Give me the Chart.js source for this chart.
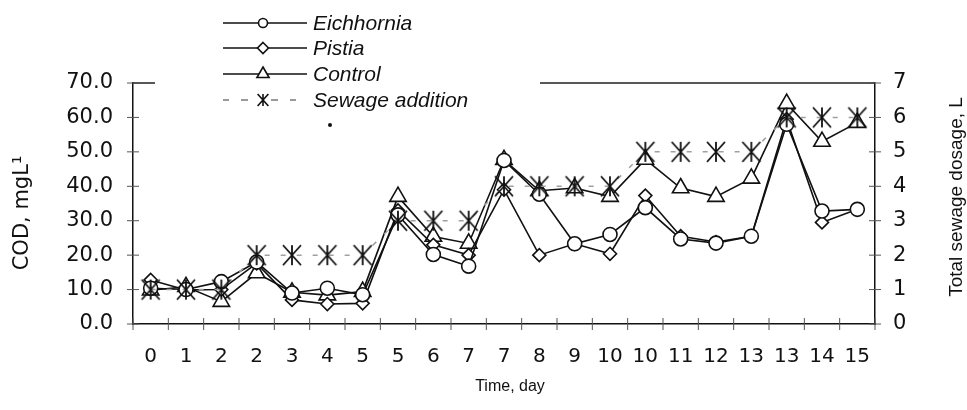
<!DOCTYPE html>
<html><head><meta charset="utf-8">
<script src="https://cdn.jsdelivr.net/npm/chart.js@4"></script>
<style>html,body{margin:0;padding:0;background:#fff;}#wrap{width:967px;height:410px;}</style>
</head><body><div id="wrap"><canvas id="c" width="967" height="410"></canvas></div>
<script>
const dayLabels = ['0','1','2','2','3','4','5','5','6','7','7','8','9','10','10','11','12','13','13','14','15'];
const eichhornia = [10.4, 10, 12.3, 18, 9, 10.4, 8.5, 31.7, 20.2, 16.8, 47.5, 37.7, 23.3, 26, 33.8, 24.7, 23.5, 25.5, 58, 32.8, 33.3];
const pistia = [12.8, 9.9, 10, 17.6, 7, 5.8, 6, 33, 23, 20, 39, 20, 23.3, 20.4, 37.3, 25.5, 23.8, 25.5, 59.5, 29.5, 33.3];
const control = [9.8, 10.8, 6.5, 14.8, 9.2, 8.4, 9.4, 37, 25.4, 23.4, 47.7, 38.7, 39.5, 37, 47.8, 39.5, 37, 42.3, 64, 53, 58.5];
const sewageAddition = [1,1,1,2,2,2,2,3,3,3,4,4,4,4,5,5,5,5,6,6,6];
const codTicks = [0,10,20,30,40,50,60,70];
const sewageTicks = [0,1,2,3,4,5,6,7];
const seriesNames = ['Eichhornia','Pistia','Control','Sewage addition'];

function asterisk(ctx, x, y, r){
  const dx = r*0.9;
  ctx.beginPath();
  ctx.moveTo(x, y-r); ctx.lineTo(x, y+r);
  ctx.moveTo(x-dx, y-r); ctx.lineTo(x+dx, y+r);
  ctx.moveTo(x+dx, y-r); ctx.lineTo(x-dx, y+r);
  ctx.stroke();
}
function makeStarImage(r, lw){
  const s = Math.ceil(2*r + lw + 2);
  const cv = document.createElement('canvas'); cv.width = s; cv.height = s;
  const c = cv.getContext('2d');
  c.strokeStyle = '#111'; c.lineWidth = lw; c.lineCap = 'butt';
  asterisk(c, s/2, s/2, r);
  return cv;
}
const starImg = makeStarImage(10, 1.8);

function drawMarker(ctx, style, x, y, r){
  ctx.beginPath();
  if (style==='circle'){ ctx.arc(x,y,r,0,Math.PI*2); ctx.fill(); ctx.stroke(); }
  else if (style==='rectRot'){ ctx.moveTo(x,y-r); ctx.lineTo(x+r,y); ctx.lineTo(x,y+r); ctx.lineTo(x-r,y); ctx.closePath(); ctx.fill(); ctx.stroke(); }
  else if (style==='triangle'){ const a=r*Math.sin(Math.PI/3); ctx.moveTo(x,y-r); ctx.lineTo(x+a,y+r/2); ctx.lineTo(x-a,y+r/2); ctx.closePath(); ctx.fill(); ctx.stroke(); }
  else if (style==='star'){ asterisk(ctx, x, y, r); }
}

const decor = {
  id:'decor',
  afterDraw(chart){
    const ctx = chart.ctx, a = chart.chartArea;
    const xs = chart.scales.x, yl = chart.scales.y, yr = chart.scales.y2;
    ctx.save();
    ctx.strokeStyle='#222'; ctx.lineWidth=1.5;
    ctx.beginPath(); ctx.moveTo(a.left,a.top); ctx.lineTo(155,a.top);
    ctx.moveTo(540,a.top); ctx.lineTo(a.right,a.top); ctx.stroke();
    ctx.strokeStyle='#555'; ctx.lineWidth=1;
    ctx.beginPath();
    codTicks.forEach(v=>{ const y=yl.getPixelForValue(v); ctx.moveTo(a.left-6,y); ctx.lineTo(a.left+6,y); });
    sewageTicks.forEach(v=>{ const y=yr.getPixelForValue(v); ctx.moveTo(a.right-6,y); ctx.lineTo(a.right+6,y); });
    for (let i=0;i<=dayLabels.length;i++){ const x=xs.getPixelForValue(i-0.5); ctx.moveTo(x,a.bottom-6); ctx.lineTo(x,a.bottom+6); }
    ctx.stroke();
    const styles = ['circle','rectRot','triangle','star'];
    const radii = [4.5,5.5,7,6];
    const rows = [23,48,74,100];
    ctx.font = 'italic 21px "Liberation Sans", Arial, sans-serif';
    ctx.textBaseline='middle'; ctx.textAlign='left';
    for (let i=0;i<4;i++){
      const y=rows[i];
      if (i<3){
        ctx.strokeStyle='#111'; ctx.lineWidth=1.5;
        ctx.beginPath(); ctx.moveTo(223,y); ctx.lineTo(307,y); ctx.stroke();
      } else {
        ctx.strokeStyle='#9a9a9a'; ctx.lineWidth=2;
        ctx.beginPath();
        [[223,229],[241,248],[271,278],[290,296]].forEach(s=>{ctx.moveTo(s[0],y);ctx.lineTo(s[1],y);});
        ctx.stroke();
      }
      ctx.fillStyle='#fff'; ctx.strokeStyle='#111'; ctx.lineWidth=1.6;
      drawMarker(ctx, styles[i], 263, y, radii[i]);
      ctx.fillStyle='#111';
      ctx.fillText(seriesNames[i], 313, y+1);
    }
    ctx.beginPath(); ctx.arc(330,125,2,0,Math.PI*2); ctx.fill();
    ctx.fillStyle='#111';
    ctx.font='16px "Liberation Sans", Arial, sans-serif';
    ctx.textAlign='center';
    ctx.fillText('Time, day', 510, 387);
    ctx.save(); ctx.translate(23,213); ctx.rotate(-Math.PI/2);
    ctx.font='21px "DejaVu Sans", sans-serif';
    ctx.fillText('COD, mgL\u00B9', 0, 0); ctx.restore();
    ctx.save(); ctx.translate(957,197); ctx.rotate(-Math.PI/2);
    ctx.font='19px "Liberation Sans", Arial, sans-serif';
    ctx.fillText('Total sewage dosage, L', 0, 0); ctx.restore();
    ctx.restore();
  }
};

const lineBase = {borderColor:'#111', borderWidth:1.6, pointBackgroundColor:'#fff', pointBorderColor:'#111', pointBorderWidth:1.6, tension:0, fill:false, yAxisID:'y', order:0};

new Chart(document.getElementById('c'), {
  type:'line',
  data:{
    labels: dayLabels,
    datasets:[
      Object.assign({}, lineBase, {label:seriesNames[0], data:eichhornia, pointStyle:'circle', pointRadius:7}),
      Object.assign({}, lineBase, {label:seriesNames[1], data:pistia, pointStyle:'rectRot', pointRadius:6.5}),
      Object.assign({}, lineBase, {label:seriesNames[2], data:control, pointStyle:'triangle', pointRadius:9.5}),
      {label:seriesNames[3], data:sewageAddition, yAxisID:'y2', order:-1, borderColor:'#a0a0a0', borderWidth:1.5, borderDash:[5,11],
       pointStyle:starImg, pointRadius:10, tension:0, fill:false}
    ]
  },
  options:{
    responsive:false, animation:false, devicePixelRatio:1,
    layout:{padding:{top:83,left:0,right:0,bottom:0}},
    plugins:{legend:{display:false}, tooltip:{enabled:false}},
    scales:{
      x:{type:'category', offset:true,
         grid:{display:false, drawTicks:false, offset:true},
         border:{display:true, color:'#111', width:1.5},
         ticks:{font:{family:'DejaVu Sans', size:20}, color:'#111', padding:21, maxRotation:0, autoSkip:false},
         afterFit(s){ s.height = 86; }},
      y:{position:'left', min:0, max:70,
         grid:{display:false, drawTicks:false},
         border:{display:true, color:'#111', width:1.5},
         ticks:{font:{family:'DejaVu Sans', size:21}, color:'#111', padding:20, stepSize:10, callback:v=>Number(v).toFixed(1)},
         afterFit(s){ s.width = 133; }},
      y2:{position:'right', min:0, max:7,
         grid:{display:false, drawTicks:false},
         border:{display:true, color:'#111', width:1.5},
         ticks:{font:{family:'DejaVu Sans', size:21}, color:'#111', padding:18, stepSize:1},
         afterFit(s){ s.width = 92; }}
    }
  },
  plugins:[decor]
});
</script></body></html>
